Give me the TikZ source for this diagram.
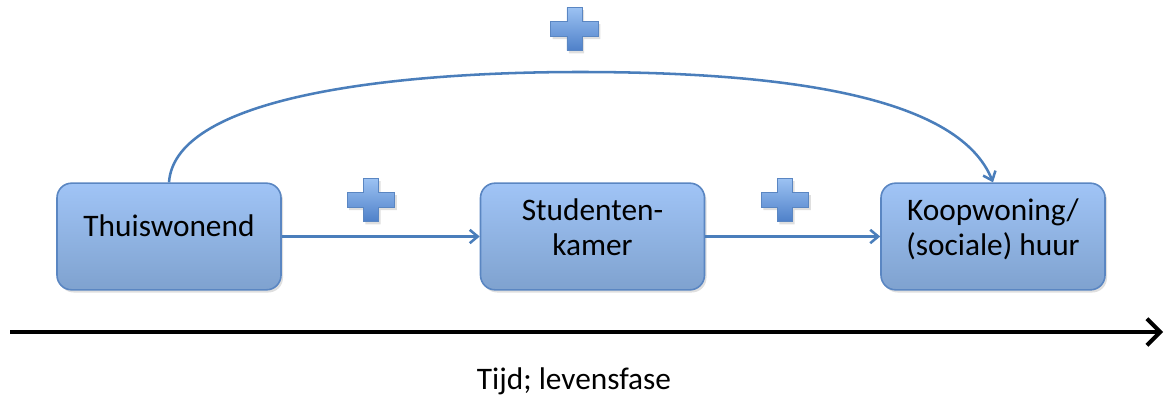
\documentclass[tikz,border=0pt]{standalone}
\usepackage{fontspec}
\setmainfont{Carlito}
\usetikzlibrary{arrows.meta,shadows}
\definecolor{boxtop}{HTML}{A0C4F6}
\definecolor{boxbot}{HTML}{7FA2CF}
\definecolor{boxline}{HTML}{5A86C2}
\definecolor{arrowblue}{HTML}{4A7EBB}
\definecolor{plustop}{HTML}{9CC2F3}
\definecolor{plusbot}{HTML}{4E80C8}
\tikzset{
  stagebox/.style={draw=boxline, line width=1.2pt, rounded corners=11pt,
    top color=boxtop, bottom color=boxbot, minimum width=168pt, minimum height=80pt,
    align=center, font=\fontsize{23.5}{26.5}\selectfont, text=black,
    drop shadow={shadow xshift=1.5pt, shadow yshift=-2pt, opacity=0.25}},
  flow/.style={draw=arrowblue, line width=1.9pt, -{Straight Barb[length=6pt,width=10pt,line width=1.9pt]}},
  plusmark/.style={draw=boxline, line width=0.6pt, top color=plustop, bottom color=plusbot,
    drop shadow={shadow xshift=1.5pt, shadow yshift=-2pt, opacity=0.25}},
}
\newcommand{\plusat}[3]{% center x, y, scale
  \path[plusmark] (#1-5.6*#3, #2+16*#3) -- (#1+5.6*#3, #2+16*#3) -- (#1+5.6*#3, #2+5.6*#3)
   -- (#1+17.6*#3, #2+5.6*#3) -- (#1+17.6*#3, #2-5.6*#3) -- (#1+5.6*#3, #2-5.6*#3)
   -- (#1+5.6*#3, #2-16*#3) -- (#1-5.6*#3, #2-16*#3) -- (#1-5.6*#3, #2-5.6*#3)
   -- (#1-17.6*#3, #2-5.6*#3) -- (#1-17.6*#3, #2+5.6*#3) -- (#1-5.6*#3, #2+5.6*#3) -- cycle;}
\begin{document}
\begin{tikzpicture}[x=0.75pt,y=-0.75pt]
\useasboundingbox (0,0) rectangle (1166,396);
\node[stagebox, text depth=17pt] (thuis) at (169,236.5) {Thuiswonend};
\node[stagebox, text depth=14pt] (student) at (592.5,236.5) {Studenten-\\kamer};
\node[stagebox, text depth=14pt] (koop) at (993,236.5) {Koopwoning/\\(sociale) huur};
\draw[flow] (thuis.east) -- (student.west);
\draw[flow] (student.east) -- (koop.west);
\draw[flow] (thuis.north) .. controls (175,95) and (400,72) .. (580,72)
  .. controls (800,72) and (960,100) .. (koop.north);
\plusat{574.5}{29}{1.35}
\plusat{371}{200}{1.35}
\plusat{785}{200}{1.35}
\coordinate (tstart) at (10,332);
\coordinate (tend) at (1163,332);
\draw[line width=3pt, -{Straight Barb[length=10pt,width=20pt,line width=3pt]}] (tstart) -- (tend);
\node[font=\fontsize{23.5}{27}\selectfont] (tlabel) at (574,381) {Tijd; levensfase};
\end{tikzpicture}
\end{document}
